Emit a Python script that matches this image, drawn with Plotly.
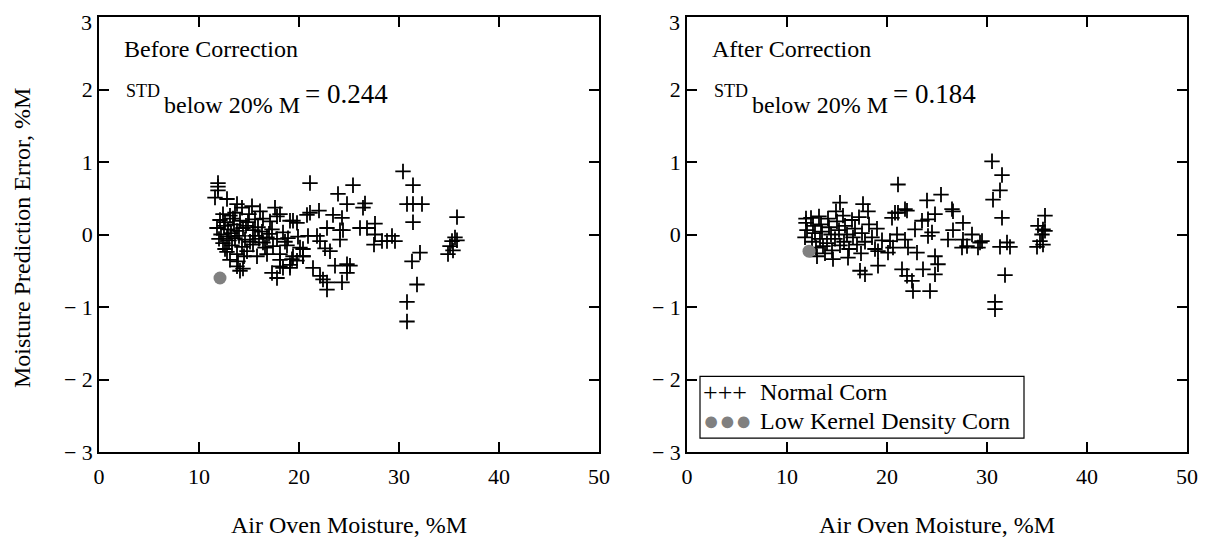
import plotly.graph_objects as go

# ---------------- data ----------------
normal_before_x = [
    11.9, 11.9, 11.9, 11.6, 12.8, 13.8, 15.3, 14.3, 17.6, 16.1, 18.1, 12.4, 13.1,
    19.1, 19.8, 12.1, 12.6, 13.4, 14.1, 14.9, 15.6, 16.4, 17.1,
    11.8, 12.9, 13.8, 14.4, 15.4, 16.3, 17.3, 18.4,
    12.8, 13.6, 14.6, 15.6, 16.8, 17.8, 18.9, 19.9,
    12.4, 13.3, 14.3, 15.4, 16.4, 17.4, 18.8, 20.1,
    12.8, 13.8, 14.8, 15.8, 16.8, 18.1, 19.3, 20.4,
    13.1, 13.9, 18.1, 19.8, 13.8, 14.4, 18.1, 19.1, 14.1,
    12.2, 12.5, 13.0, 13.5, 14.0, 14.7, 15.1, 15.9, 16.6, 17.0, 12.0, 13.2, 14.5,
    16.0, 12.6, 17.8, 18.6, 13.6, 15.0,
    21.1, 25.4, 23.9, 24.8, 26.6, 26.4, 22.0, 21.1, 20.8, 23.4, 24.3, 19.4, 27.6,
    22.8, 26.1, 26.8, 24.1, 24.4, 27.6, 21.8, 20.9, 24.1, 29.3, 28.8, 29.6, 27.5,
    28.3, 22.1, 22.6, 23.1, 20.4, 21.4, 23.6, 24.8, 25.1, 24.8, 22.1, 22.4, 22.8,
    22.8, 24.3, 17.3, 17.8, 18.4, 19.1, 19.4, 20.4,
    30.4, 31.4, 30.8, 31.4, 32.3, 31.4, 32.1, 31.3, 31.8, 30.8, 30.8,
    35.8, 35.6, 35.3, 35.8, 35.1, 35.4, 34.9,
]
normal_before_y = [
    0.71, 0.66, 0.61, 0.51, 0.49, 0.42, 0.39, 0.37, 0.37, 0.32, 0.28, 0.28, 0.26,
    0.19, 0.16, 0.20, 0.17, 0.22, 0.19, 0.17, 0.21, 0.22, 0.18,
    0.09, 0.07, 0.05, 0.09, 0.06, 0.04, 0.07, 0.03,
    -0.03, -0.05, -0.07, -0.02, -0.04, -0.06, -0.05, -0.03,
    -0.12, -0.15, -0.17, -0.14, -0.11, -0.16, -0.15, -0.18,
    -0.24, -0.27, -0.23, -0.30, -0.27, -0.27, -0.34, -0.30,
    -0.35, -0.37, -0.35, -0.36, -0.44, -0.47, -0.44, -0.46, -0.50,
    0.00, 0.12, -0.08, 0.14, -0.02, 0.12, -0.10, 0.10, -0.18, 0.01, -0.06, 0.02, -0.30,
    -0.06, -0.20, 0.25, -0.10, 0.30, 0.28,
    0.71, 0.68, 0.56, 0.42, 0.43, 0.37, 0.33, 0.30, 0.27, 0.27, 0.23, 0.19, 0.15,
    0.09, 0.09, 0.09, 0.06, 0.06, 0.00, -0.02, -0.02, -0.07, -0.02, -0.09, -0.09, -0.14,
    -0.09, -0.09, -0.19, -0.23, -0.20, -0.46, -0.43, -0.41, -0.43, -0.53, -0.57, -0.62, -0.66,
    -0.76, -0.66, -0.53, -0.60, -0.46, -0.42, -0.30, -0.30,
    0.87, 0.68, 0.42, 0.42, 0.42, 0.17, -0.25, -0.37, -0.69, -0.93, -1.20,
    0.24, -0.04, -0.09, -0.08, -0.16, -0.22, -0.27,
]
low_before_x = [12.1]
low_before_y = [-0.60]

normal_after_x = [
    30.5, 31.5, 31.3, 30.6, 31.5, 32.0, 32.3, 31.3, 31.8, 30.8, 30.8,
    28.5, 29.3, 29.1, 28.0,
    35.8, 35.1, 35.6, 35.8, 35.5, 35.3, 35.6, 35.0,
    21.1, 24.0, 25.4, 26.5, 26.6, 22.0, 21.1, 24.8, 24.1, 23.5, 27.6, 22.8, 26.6,
    24.5, 21.0, 21.8, 26.1, 24.1, 27.6, 29.5, 27.5, 22.1, 23.0, 24.8, 25.1, 23.6,
    24.8, 21.5, 22.0, 22.5, 22.6, 24.3, 17.3, 17.8, 19.1, 19.1, 20.1, 20.6, 20.3,
    20.5, 20.8, 21.8, 15.3, 17.6, 18.1,
    11.9, 11.9, 12.0, 11.8, 12.4, 12.6, 12.8, 12.5, 12.9, 13.2, 13.4, 13.5, 13.3,
    13.6, 13.8, 14.1, 14.2, 14.4, 14.0, 14.5, 14.9, 15.0, 15.2, 14.8, 15.3, 15.6,
    15.8, 16.0, 15.7, 16.2, 16.5, 16.8, 16.6, 17.0, 17.2, 17.5, 17.8, 17.4, 18.2,
    18.5, 18.8, 19.0, 19.5, 16.1, 13.0, 14.6,
]
normal_after_y = [
    1.01, 0.82, 0.61, 0.48, 0.23, -0.11, -0.17, -0.17, -0.56, -0.93, -1.03,
    0.00, -0.11, -0.18, -0.16,
    0.26, 0.12, 0.07, 0.05, 0.00, -0.09, -0.14, -0.17,
    0.69, 0.47, 0.55, 0.35, 0.32, 0.33, 0.30, 0.28, 0.21, 0.19, 0.16, 0.07, 0.06,
    0.03, 0.00, -0.07, -0.07, -0.02, -0.07, -0.09, -0.18, -0.18, -0.25, -0.30, -0.41, -0.48,
    -0.55, -0.48, -0.57, -0.64, -0.78, -0.78, -0.50, -0.55, -0.43, -0.23, -0.25, -0.18, -0.09,
    0.23, 0.30, 0.35, 0.44, 0.42, 0.32,
    0.22, 0.16, 0.06, -0.04, 0.23, 0.12, 0.02, -0.10, -0.18, 0.25, 0.14, 0.04, -0.06,
    -0.16, -0.26, 0.22, 0.10, 0.00, -0.12, -0.22, 0.32, 0.18, 0.06, -0.06, -0.15, 0.26,
    0.12, 0.00, -0.10, -0.20, 0.20, 0.08, -0.04, -0.14, 0.24, 0.02, -0.10, -0.26, 0.14,
    -0.04, -0.20, 0.08, -0.08, -0.32, -0.30, -0.34,
]
low_after_x = [12.2]
low_after_y = [-0.23]

x_tick_vals = [0, 10, 20, 30, 40, 50]
y_tick_vals = [-3, -2, -1, 0, 1, 2, 3]
# the top label "3" is drawn separately (nudged down inside the page, as in the original)
y_tick_text = ["\u2212 3", "\u2212 2", "\u2212 1", "0", "1", "2", ""]
top_tick_label = "3"

panel_titles = ["Before Correction", "After Correction"]
std_values = ["0.244", "0.184"]

# ---------------- figure ----------------
OFF = 8  # default page body margin
W, H = 1214 - OFF, 543 - OFF
ML, MT = 99 - OFF, 15 - OFF
PW, PH = 1088, 437
MR = W - ML - PW
MB = H - MT - PH
FONT = "Liberation Serif, Times New Roman, serif"


def px_x(px):
    return (px - OFF - ML) / PW


def px_y(py):
    return (MT + PH - (py - OFF)) / PH


fig = go.Figure()

cross = dict(symbol="cross-thin", size=11, color="black",
             line=dict(color="black", width=1.8))
dot = dict(symbol="circle", size=13, color="#808080", line=dict(width=0))

fig.add_trace(go.Scatter(x=normal_before_x, y=normal_before_y, mode="markers",
                         marker=cross, xaxis="x", yaxis="y", showlegend=False))
fig.add_trace(go.Scatter(x=low_before_x, y=low_before_y, mode="markers",
                         marker=dot, xaxis="x", yaxis="y", showlegend=False))
fig.add_trace(go.Scatter(x=normal_after_x, y=normal_after_y, mode="markers",
                         marker=cross, xaxis="x2", yaxis="y2", showlegend=False))
fig.add_trace(go.Scatter(x=low_after_x, y=low_after_y, mode="markers",
                         marker=dot, xaxis="x2", yaxis="y2", showlegend=False))

axis_common = dict(showgrid=False, zeroline=False, showline=True, linecolor="black",
                   linewidth=1.5, mirror="ticks", ticks="inside", ticklen=10,
                   tickwidth=1.5, tickcolor="black",
                   tickfont=dict(family=FONT, size=22, color="black"))

fig.update_layout(
    width=W, height=H,
    margin=dict(l=ML, r=MR, t=MT, b=MB, pad=0),
    paper_bgcolor="white", plot_bgcolor="white",
    showlegend=False,
    xaxis=dict(domain=[0, 500 / PW], range=[0, 50], tickvals=x_tick_vals,
               anchor="y", ticklabelstandoff=4, **axis_common),
    yaxis=dict(domain=[0, 1], range=[-3, 3], tickvals=y_tick_vals,
               ticktext=y_tick_text, anchor="x", **axis_common),
    xaxis2=dict(domain=[588 / PW, 1], range=[0, 50], tickvals=x_tick_vals,
                anchor="y2", ticklabelstandoff=4, **axis_common),
    yaxis2=dict(domain=[0, 1], range=[-3, 3], tickvals=y_tick_vals,
                ticktext=y_tick_text, anchor="x2", **axis_common),
)

annotations = []


def ann(text, px, py, size, xanchor="left", yanchor="middle", color="black", angle=0):
    annotations.append(dict(text=text, x=px_x(px), y=px_y(py), xref="paper", yref="paper",
                            xanchor=xanchor, yanchor=yanchor, showarrow=False,
                            textangle=angle,
                            font=dict(family=FONT, size=size, color=color)))


for i, off in enumerate([0, 588]):
    ann(top_tick_label, 94 + off, 21, 22, xanchor="right")
    ann(panel_titles[i], 122 + off, 47, 24)
    ann("STD", 124 + off, 89, 18)
    ann("below 20% M", 162 + off, 103, 24)
    ann("= " + std_values[i], 303 + off, 92, 27)
    ann("Air Oven Moisture, %M", 349 + off, 525, 24, xanchor="center")

ann("Moisture Prediction Error, %M", 22, 237, 24, xanchor="center", angle=-90)

# legend box (right panel)
ann("+++", 701, 392, 26)
ann("\u25cf\u25cf\u25cf", 701, 421, 27, color="#808080")
ann("Normal Corn", 758, 392, 24)
ann("Low Kernel Density Corn", 758, 421, 24)

fig.update_layout(annotations=annotations)
fig.add_shape(type="rect", xref="paper", yref="paper",
              x0=px_x(700), x1=px_x(1024), y0=px_y(438), y1=px_y(376),
              line=dict(color="black", width=1.2), fillcolor="rgba(0,0,0,0)")

fig.write_html("out.html")
